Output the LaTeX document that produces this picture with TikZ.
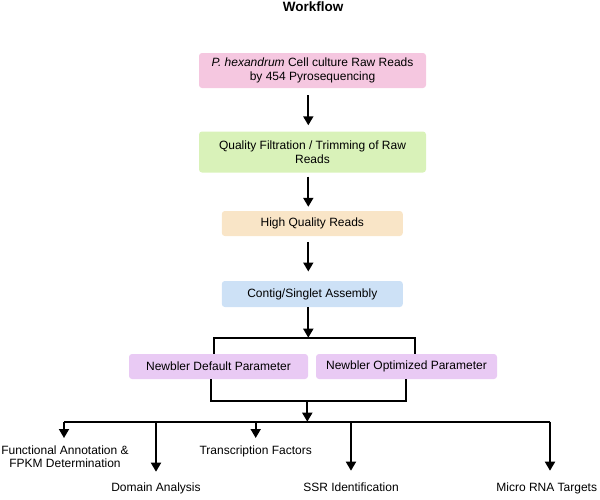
\documentclass[tikz,border=0pt]{standalone}
\usepackage{fontspec}
\setmainfont{Liberation Sans}
\usepackage{xcolor}
\usetikzlibrary{arrows.meta,calc,positioning}

\definecolor{rawpink}{RGB}{245,199,224}
\definecolor{filtgreen}{RGB}{217,242,185}
\definecolor{hqtan}{RGB}{249,229,199}
\definecolor{asmblue}{RGB}{205,225,246}
\definecolor{parpurple}{RGB}{233,202,244}

\begin{document}
\begin{tikzpicture}[x=1pt, y=-1pt,
  box/.style={rounded corners=3pt, inner sep=0pt, minimum height=25pt,
    align=center, font=\fontsize{12}{14}\selectfont},
  leaf/.style={inner sep=0pt, anchor=north, align=center,
    font=\fontsize{12}{13}\selectfont},
  wire/.style={line width=1.8pt},
  arr/.style={line width=1.8pt, -{Triangle[width=10pt,length=9pt]}}
]
\useasboundingbox (0,0) rectangle (600,499);

% Titel
\node[font=\bfseries\fontsize{13.5}{16}\selectfont] (title) at (313,7) {Workflow};

% Hauptkette
\node[box, fill=rawpink, minimum width=227pt, minimum height=35pt] (raw) at (312.5,70.5)
  {\textit{P. hexandrum} Cell culture Raw Reads\\by 454 Pyrosequencing};
\node[box, fill=filtgreen, minimum width=227pt, minimum height=41pt] (filt) at (312.5,152)
  {Quality Filtration / Trimming of Raw\\Reads};
\node[box, fill=hqtan, minimum width=181pt] (hq) at (312.3,223.5) {High Quality Reads};
\node[box, fill=asmblue, minimum width=181pt, minimum height=26pt] (asm) at (312.3,294)
  {Contig/Singlet Assembly};

\draw[arr] ([xshift=-4.2pt,yshift=-7pt]raw.south) -- ([xshift=-4.2pt,yshift=6pt]filt.north);
\draw[arr] ([xshift=-4.2pt,yshift=-4pt]filt.south) -- ([xshift=-4pt,yshift=4pt]hq.north);
\draw[arr] ([xshift=-4pt,yshift=-5.7pt]hq.south) -- ([xshift=-4pt,yshift=9.3pt]asm.north);

% Newbler-Parameter
\node[box, fill=parpurple, minimum width=179pt] (defp) at (218.5,366.5) {Newbler Default Parameter};
\node[box, fill=parpurple, minimum width=181pt] (optp) at (406.5,366.5) {Newbler Optimized Parameter};

\coordinate (splitL) at (214,337.7);
\coordinate (splitR) at (415.3,337.7);
\draw[arr] ([xshift=-4pt]asm.south) -- ([xshift=-4pt]asm.south |- splitL);
\draw[wire] (splitL |- defp.north) -- (splitL) -- (splitR) -- (splitR |- optp.north);

\coordinate (joinL) at (210.7,400.7);
\coordinate (joinR) at (405.7,400.7);
\coordinate (join) at (307.3,400.7);
\draw[wire] (joinL |- defp.south) -- (joinL) -- (joinR) -- (joinR |- optp.south);

% Verzweigung
\coordinate (forkL) at (64,421.7);
\coordinate (forkR) at (550,421.7);
\draw[arr] (join) -- (join |- forkL);
\draw[wire] (forkL) -- (forkR);

\node[leaf] (fa) at (65,445.5) {Functional Annotation \&\\FPKM Determination};
\node[leaf] (dom) at (156,482.5) {Domain Analysis};
\node[leaf] (tf) at (255.7,445.5) {Transcription Factors};
\node[leaf] (ssr) at (351,482.5) {SSR Identification};
\node[leaf] (mirna) at (546.7,482.5) {Micro RNA Targets};

\draw[arr, shorten >=7.5pt] (forkL) -- (forkL |- fa.north);
\draw[arr, shorten >=10.8pt] (dom.north |- forkL) -- (dom.north);
\draw[arr, shorten >=7.5pt] (tf.north |- forkL) -- (tf.north);
\draw[arr, shorten >=11.8pt] (ssr.north |- forkL) -- (ssr.north);
\draw[arr, shorten >=11.8pt] (forkR) -- (forkR |- mirna.north);

\end{tikzpicture}
\end{document}
